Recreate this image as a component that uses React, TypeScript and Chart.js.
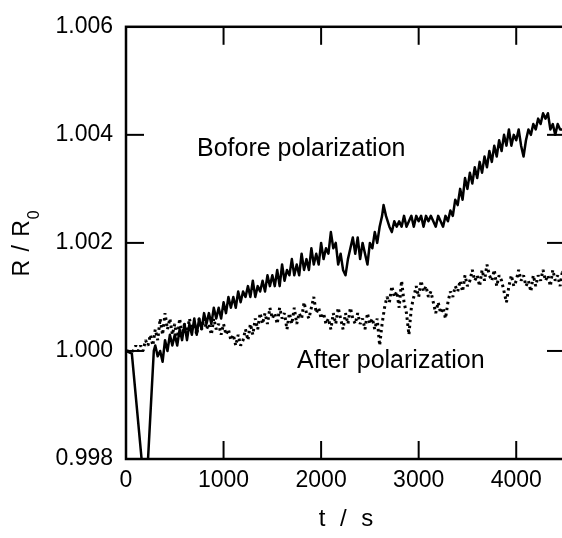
import React, { useEffect, useRef } from "react";
import { Chart, registerables } from "chart.js";

Chart.register(...registerables);

// ---- data ----
const X_TICKS = [0, 1000, 2000, 3000, 4000];
const Y_TICKS = [0.998, 1.0, 1.002, 1.004, 1.006];
const X_MIN = 0;
const X_MAX = 4500;
const Y_MIN = 0.998;
const Y_MAX = 1.006;

// Before polarization: [t (s), R/R0]
const BEFORE: [number, number][] = [
  [0, 1.0], [60, 0.99995], [170, 0.9978], [220, 0.9978], [285, 1.0],
  [300, 1.0001], [325, 0.9999], [350, 1.0], [375, 0.9998], [400, 1.0002], [425, 1.0], [450, 1.0003], [475, 1.0001],
  [500, 1.0003], [525, 1.0001], [550, 1.0004], [575, 1.0002], [600, 1.0005], [625, 1.0002], [650, 1.0005], [675, 1.0003],
  [700, 1.0006], [725, 1.0003], [750, 1.0006], [775, 1.0004], [800, 1.0007], [825, 1.0005], [850, 1.0007], [875, 1.0005],
  [900, 1.0008], [925, 1.0006], [950, 1.0008], [975, 1.0006], [1000, 1.0009], [1025, 1.0007], [1050, 1.001], [1075, 1.0008],
  [1100, 1.001], [1125, 1.0008], [1150, 1.0011], [1175, 1.0009], [1200, 1.0011], [1225, 1.001], [1250, 1.0012], [1275, 1.001],
  [1300, 1.0013], [1325, 1.001], [1350, 1.0012], [1375, 1.0011], [1400, 1.0013], [1425, 1.0011], [1450, 1.0014], [1475, 1.0012],
  [1500, 1.0014], [1525, 1.0012], [1550, 1.0015], [1575, 1.0012], [1600, 1.0016], [1625, 1.0013], [1650, 1.0015], [1675, 1.0014],
  [1700, 1.0017], [1725, 1.0014], [1750, 1.0016], [1775, 1.0014], [1800, 1.0018], [1825, 1.0015], [1850, 1.0017], [1875, 1.0015],
  [1900, 1.0019], [1925, 1.0016], [1950, 1.0018], [1975, 1.0016], [2000, 1.002], [2025, 1.0017], [2050, 1.0019], [2075, 1.0018],
  [2100, 1.0022], [2125, 1.0019], [2150, 1.002], [2175, 1.0016], [2200, 1.0018], [2225, 1.0015], [2250, 1.0014], [2275, 1.0017],
  [2300, 1.0019], [2325, 1.0021], [2350, 1.0018], [2375, 1.0021], [2400, 1.0017], [2425, 1.002], [2450, 1.0018], [2475, 1.0016],
  [2500, 1.002], [2525, 1.0019], [2550, 1.0022], [2575, 1.002], [2600, 1.0023], [2625, 1.0025], [2640, 1.0027], [2665, 1.0025],
  [2700, 1.0023], [2725, 1.0022], [2750, 1.0024], [2775, 1.0023], [2800, 1.0024], [2825, 1.0023], [2850, 1.0025], [2875, 1.0023],
  [2900, 1.0024], [2925, 1.0025], [2950, 1.0023], [2975, 1.0025], [3000, 1.0024], [3025, 1.0025], [3050, 1.0023], [3075, 1.0025],
  [3100, 1.0024], [3125, 1.0025], [3150, 1.0024], [3175, 1.0023], [3200, 1.0025], [3225, 1.0024], [3250, 1.0023], [3275, 1.0025],
  [3300, 1.0024], [3325, 1.0026], [3350, 1.0025], [3375, 1.0028], [3400, 1.0027], [3425, 1.003], [3450, 1.0028], [3475, 1.0032],
  [3500, 1.003], [3525, 1.0033], [3550, 1.0031], [3575, 1.0034], [3600, 1.0032], [3625, 1.0035], [3650, 1.0033], [3675, 1.0036],
  [3700, 1.0034], [3725, 1.0037], [3750, 1.0035], [3775, 1.0038], [3800, 1.0036], [3825, 1.0039], [3850, 1.0037], [3875, 1.004],
  [3900, 1.0038], [3925, 1.0041], [3950, 1.0038], [3975, 1.004], [4000, 1.0039], [4025, 1.0041], [4050, 1.0038], [4075, 1.0036],
  [4100, 1.0039], [4125, 1.0041], [4150, 1.004], [4175, 1.0042], [4200, 1.0041], [4225, 1.0043], [4250, 1.0042], [4275, 1.0044],
  [4300, 1.0043], [4325, 1.0044], [4350, 1.0041], [4375, 1.0042], [4400, 1.004], [4425, 1.0042], [4450, 1.0041], [4475, 1.0041],
  [4500, 1.004],
];

// After polarization: [t (s), R/R0]
const AFTER: [number, number][] = [
  [0, 1.0], [25, 1.0], [50, 1.0], [75, 1.0], [100, 1.0001], [125, 1.0], [150, 1.0001], [175, 1.0],
  [200, 1.0002], [225, 1.0001], [250, 1.0003], [275, 1.0001], [300, 1.0004], [325, 1.0002], [350, 1.0006], [375, 1.0003],
  [400, 1.0007], [425, 1.0004], [450, 1.0006], [475, 1.0003], [500, 1.0005], [525, 1.0002], [550, 1.0006], [575, 1.0003],
  [600, 1.0005], [625, 1.0003], [650, 1.0006], [675, 1.0004], [700, 1.0005], [725, 1.0003], [750, 1.0006], [775, 1.0004],
  [800, 1.0006], [825, 1.0004], [850, 1.0005], [875, 1.0003], [900, 1.0006], [925, 1.0004], [950, 1.0005], [975, 1.0003],
  [1000, 1.0005], [1025, 1.0003], [1050, 1.0004], [1075, 1.0002], [1100, 1.0003], [1125, 1.0001], [1150, 1.0003], [1175, 1.0001],
  [1200, 1.0002], [1225, 1.0004], [1250, 1.0002], [1275, 1.0005], [1300, 1.0003], [1325, 1.0006], [1350, 1.0004], [1375, 1.0007],
  [1400, 1.0005], [1425, 1.0007], [1450, 1.0005], [1475, 1.0008], [1500, 1.0006], [1525, 1.0007], [1550, 1.0005], [1575, 1.0008],
  [1600, 1.0006], [1625, 1.0007], [1650, 1.0004], [1675, 1.0007], [1700, 1.0005], [1725, 1.0008], [1750, 1.0005], [1775, 1.0007],
  [1800, 1.0006], [1825, 1.0009], [1850, 1.0007], [1875, 1.0006], [1900, 1.0008], [1925, 1.001], [1950, 1.0007], [1975, 1.0008],
  [2000, 1.0006], [2025, 1.0007], [2050, 1.0005], [2075, 1.0006], [2100, 1.0004], [2125, 1.0007], [2150, 1.0005], [2175, 1.0008],
  [2200, 1.0006], [2225, 1.0004], [2250, 1.0007], [2275, 1.0005], [2300, 1.0008], [2325, 1.0006], [2350, 1.0005], [2375, 1.0007],
  [2400, 1.0005], [2425, 1.0006], [2450, 1.0004], [2475, 1.0007], [2500, 1.0005], [2525, 1.0006], [2550, 1.0004], [2575, 1.0006],
  [2600, 1.0001], [2625, 1.0005], [2650, 1.0008], [2675, 1.001], [2700, 1.0009], [2725, 1.0012], [2750, 1.001], [2775, 1.0011],
  [2800, 1.0008], [2825, 1.0013], [2850, 1.0009], [2875, 1.0007], [2900, 1.0003], [2925, 1.0008], [2950, 1.001], [2975, 1.0012],
  [3000, 1.001], [3025, 1.0013], [3050, 1.0011], [3075, 1.0012], [3100, 1.001], [3125, 1.0011], [3150, 1.0009], [3175, 1.0007],
  [3200, 1.0009], [3225, 1.0007], [3250, 1.0008], [3275, 1.0006], [3300, 1.0009], [3325, 1.0011], [3350, 1.001], [3375, 1.0012],
  [3400, 1.0011], [3425, 1.0013], [3450, 1.0011], [3475, 1.0014], [3500, 1.0012], [3525, 1.0013], [3550, 1.0015], [3575, 1.0013],
  [3600, 1.0014], [3625, 1.0012], [3650, 1.0015], [3675, 1.0013], [3700, 1.0016], [3725, 1.0014], [3750, 1.0013], [3775, 1.0015],
  [3800, 1.0012], [3825, 1.0014], [3850, 1.0013], [3875, 1.0011], [3900, 1.0009], [3925, 1.0012], [3950, 1.0014], [3975, 1.0012],
  [4000, 1.0013], [4025, 1.0015], [4050, 1.0013], [4075, 1.0014], [4100, 1.0012], [4125, 1.0013], [4150, 1.0011], [4175, 1.0014],
  [4200, 1.0012], [4225, 1.0014], [4250, 1.0013], [4275, 1.0015], [4300, 1.0013], [4325, 1.0014], [4350, 1.0012], [4375, 1.0015],
  [4400, 1.0013], [4425, 1.0014], [4450, 1.0012], [4475, 1.0015], [4500, 1.0013],
];

const LABEL_BEFORE = "Bofore polarization";
const LABEL_AFTER = "After polarization";
const LABEL_BEFORE_AT: [number, number] = [728, 1.00361];
const LABEL_AFTER_AT: [number, number] = [1753, 0.99969];
const X_TITLE = "t / s";
const Y_TITLE = "R / R";
const Y_TITLE_SUB = "0";

const FONT = '"Liberation Sans", Arial, Helvetica, sans-serif';
const CANVAS_W = 572;
const CANVAS_H = 538;

const framePlugin = {
  id: "frame",
  afterDatasetsDraw(chart: any) {
    const { ctx, chartArea: a, scales } = chart;
    const x = scales.x;
    const y = scales.y;
    ctx.save();
    ctx.strokeStyle = "#000";
    ctx.lineWidth = 2.5;
    ctx.strokeRect(a.left, a.top, a.right - a.left, a.bottom - a.top);

    const TL = 18;
    ctx.lineWidth = 2;
    const seg = (x1: number, y1: number, x2: number, y2: number) => {
      ctx.beginPath();
      ctx.moveTo(x1, y1);
      ctx.lineTo(x2, y2);
      ctx.stroke();
    };
    X_TICKS.forEach((v) => {
      if (v <= X_MIN) return;
      const px = x.getPixelForValue(v);
      seg(px, a.bottom, px, a.bottom - TL);
      seg(px, a.top, px, a.top + TL);
    });
    Y_TICKS.forEach((v) => {
      if (v <= Y_MIN || v >= Y_MAX) return;
      const py = y.getPixelForValue(v);
      seg(a.left, py, a.left + TL, py);
      seg(a.right, py, a.right - TL, py);
    });

    ctx.fillStyle = "#000";
    // annotations
    ctx.font = `25px ${FONT}`;
    ctx.textAlign = "left";
    ctx.textBaseline = "alphabetic";
    ctx.fillText(
      LABEL_BEFORE,
      x.getPixelForValue(LABEL_BEFORE_AT[0]),
      y.getPixelForValue(LABEL_BEFORE_AT[1])
    );
    ctx.fillText(
      LABEL_AFTER,
      x.getPixelForValue(LABEL_AFTER_AT[0]),
      y.getPixelForValue(LABEL_AFTER_AT[1])
    );

    // x title
    ctx.font = `24px ${FONT}`;
    ctx.textAlign = "center";
    ctx.textBaseline = "middle";
    (ctx as any).letterSpacing = "4px";
    ctx.fillText(X_TITLE, (a.left + 562) / 2 + 4, 519);
    (ctx as any).letterSpacing = "1px";

    // y title (rotated) with subscript
    ctx.translate(29, (a.top + a.bottom) / 2);
    ctx.rotate(-Math.PI / 2);
    ctx.font = `23px ${FONT}`;
    const w1 = ctx.measureText(Y_TITLE).width;
    ctx.font = `16px ${FONT}`;
    const w2 = ctx.measureText(Y_TITLE_SUB).width;
    const start = -(w1 + w2) / 2;
    ctx.textAlign = "left";
    ctx.textBaseline = "alphabetic";
    ctx.font = `23px ${FONT}`;
    ctx.fillText(Y_TITLE, start, 0);
    ctx.font = `16px ${FONT}`;
    ctx.fillText(Y_TITLE_SUB, start + w1, 10);
    ctx.restore();
  },
};

export default function App() {
  const ref = useRef<HTMLCanvasElement | null>(null);

  useEffect(() => {
    if (!ref.current) return;
    const chart = new Chart(ref.current, {
      type: "line",
      data: {
        datasets: [
          {
            label: LABEL_BEFORE,
            data: BEFORE.map(([t, v]) => ({ x: t, y: v })),
            borderColor: "#000",
            borderWidth: 2.5,
            borderJoinStyle: "round",
            borderCapStyle: "round",
            pointRadius: 0,
            tension: 0,
            fill: false,
          },
          {
            label: LABEL_AFTER,
            data: AFTER.map(([t, v]) => ({ x: t, y: v })),
            borderColor: "#000",
            borderWidth: 3,
            borderDash: [2.5, 3.5],
            borderCapStyle: "butt",
            borderJoinStyle: "bevel",
            pointRadius: 0,
            tension: 0,
            fill: false,
          },
        ],
      },
      options: {
        animation: false,
        responsive: false,
        devicePixelRatio: 1,
        layout: { padding: { top: 23, right: 7, left: 0, bottom: 0 } },
        plugins: {
          legend: { display: false },
          tooltip: { enabled: false },
        },
        scales: {
          x: {
            type: "linear",
            min: X_MIN,
            max: X_MAX,
            grid: { display: false, drawTicks: false },
            border: { display: false },
            afterBuildTicks: (s: any) => {
              s.ticks = X_TICKS.map((v) => ({ value: v }));
            },
            afterFit: (s: any) => {
              s.height = CANVAS_H - 459;
            },
            ticks: {
              color: "#000",
              padding: 8,
              maxRotation: 0,
              autoSkip: false,
              font: { family: FONT, size: 23 },
              callback: (v: any) => String(v),
            },
          },
          y: {
            type: "linear",
            min: Y_MIN,
            max: Y_MAX,
            grid: { display: false, drawTicks: false },
            border: { display: false },
            afterBuildTicks: (s: any) => {
              s.ticks = Y_TICKS.map((v) => ({ value: v }));
            },
            afterFit: (s: any) => {
              s.width = 126;
            },
            ticks: {
              color: "#000",
              padding: 13,
              autoSkip: false,
              font: { family: FONT, size: 23 },
              callback: (v: any) => Number(v).toFixed(3),
            },
          },
        },
      },
      plugins: [framePlugin],
    });
    return () => chart.destroy();
  }, []);

  return (
    <div
      style={{
        position: "fixed",
        left: 0,
        top: 0,
        width: 562,
        height: 538,
        overflow: "hidden",
        background: "#fff",
      }}
    >
      <canvas
        ref={ref}
        width={CANVAS_W}
        height={CANVAS_H}
        style={{ width: CANVAS_W, height: CANVAS_H, display: "block" }}
      />
    </div>
  );
}
